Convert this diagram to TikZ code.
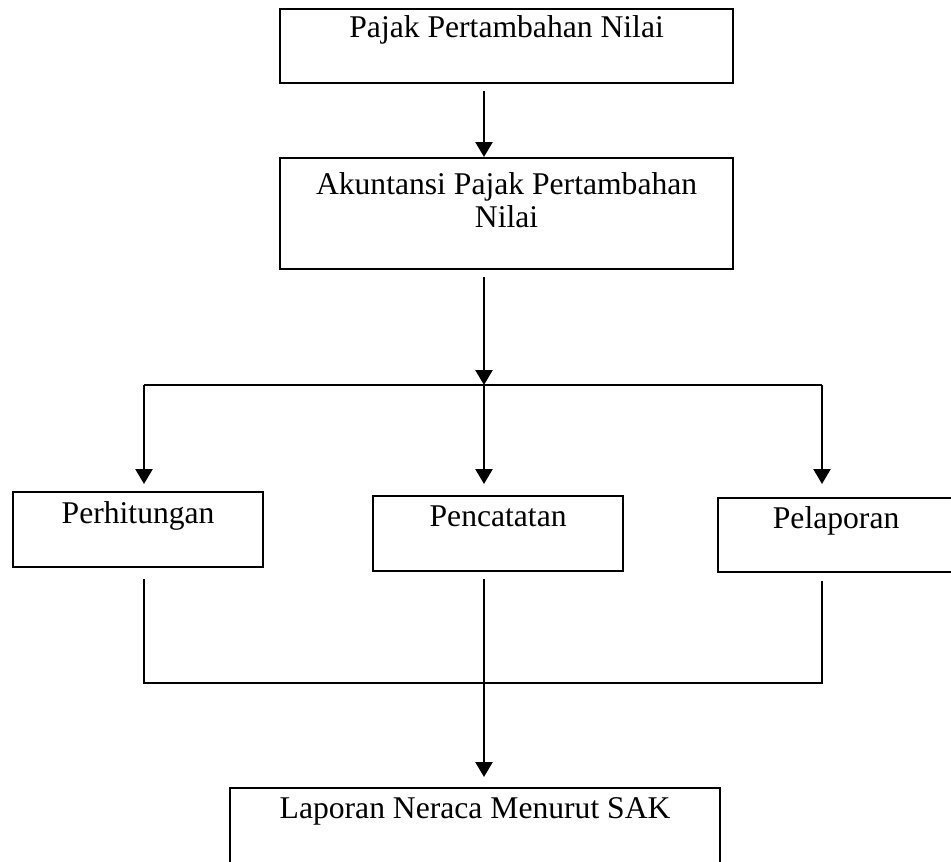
\documentclass[tikz,border=0pt]{standalone}
\usepackage{fontspec}
\setmainfont{Liberation Serif}
\usepackage{tikz}
\usetikzlibrary{arrows.meta,positioning}
\tikzset{
  kotak/.style={draw, line width=1.3pt, rectangle, anchor=north west, align=center,
    inner xsep=0pt, inner ysep=0pt, font=\fontsize{18}{18.8}\selectfont},
  panah/.style={-{Triangle[length=0.3cm, width=0.34cm]}, line width=1.4pt},
  garis/.style={line width=1pt}
}

\begin{document}
\begin{tikzpicture}[x=0.02cm, y=-0.02cm]
\useasboundingbox (0,0) rectangle (951,862);
\clip (0,0) rectangle (951,862);
% Boxes
\node[kotak, minimum width=9.06cm, text height=0.56cm, text depth=0.92cm] (ppn) at (279,8) {Pajak Pertambahan Nilai};
\node[kotak, minimum width=9.06cm, text height=1.38cm, text depth=0.84cm] (akun) at (279,157) {Akuntansi Pajak Pertambahan\\Nilai};
\node[kotak, minimum width=5cm, text height=0.62cm, text depth=0.88cm] (hitung) at (12,491) {Perhitungan};
\node[kotak, minimum width=5cm, text height=0.6cm, text depth=0.9cm] (catat) at (372,495) {Pencatatan};
\node[kotak, minimum width=4.72cm, text height=0.6cm, text depth=0.88cm] (lapor) at (717,497) {Pelaporan};
\node[kotak, minimum width=9.8cm, text height=0.6cm, text depth=1.6cm] (hasil) at (229,787) {Laporan Neraca Menurut SAK};
% Branch points
\coordinate (cabang) at (484,385);
\coordinate (kiri) at (144,385);
\coordinate (kanan) at (822,385);
\coordinate (gabungkiri) at (144,683);
\coordinate (gabung) at (484,683);
\coordinate (gabungkanan) at (822,683);
% Top arrows
\draw[panah, shorten <=0.14cm] (ppn.south -| cabang) -- (akun.north -| cabang);
\draw[panah, shorten <=0.14cm] (akun.south -| cabang) -- (cabang);
\draw[garis, line width=1.4pt] (kiri) -- (kanan);
\draw[panah, shorten >=0.14cm] (kiri) -- (hitung.north -| kiri);
\draw[panah, shorten >=0.22cm] (cabang) -- (catat.north -| cabang);
\draw[panah, shorten >=0.26cm] (kanan) -- (lapor.north -| kanan);
% Bottom lines
\draw[garis, shorten <=0.22cm, shorten >=0.16cm] (hitung.south -| gabungkiri) -- (gabungkiri) -- (gabungkanan) -- (lapor.south -| gabungkanan);
\draw[garis, shorten <=0.14cm] (catat.south -| gabung) -- (gabung);
\draw[panah, shorten >=0.2cm] (gabung) -- (hasil.north -| gabung);
\end{tikzpicture}
\end{document}
